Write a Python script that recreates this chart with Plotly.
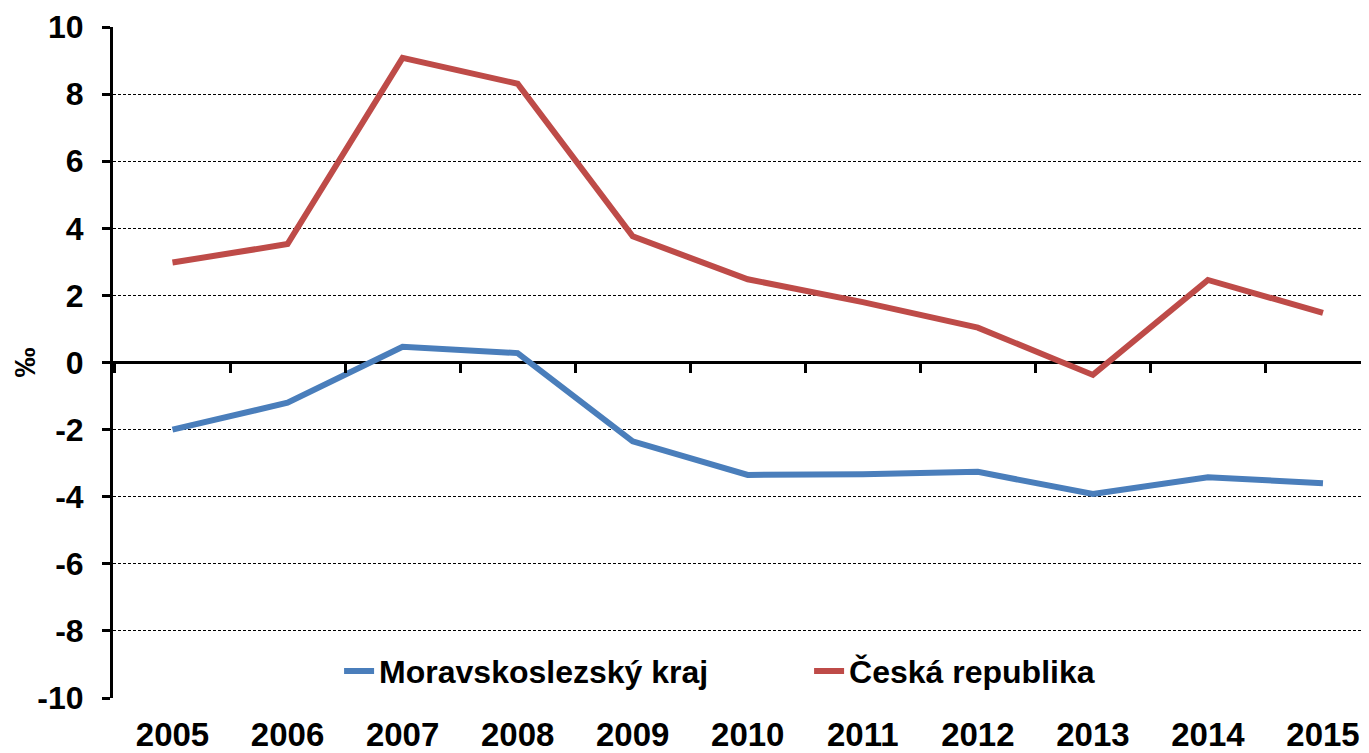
import plotly.graph_objects as go

years = ["2005", "2006", "2007", "2008", "2009", "2010", "2011", "2012", "2013", "2014", "2015"]
moravskoslezsky = [-2.0, -1.2, 0.47, 0.28, -2.35, -3.35, -3.33, -3.26, -3.92, -3.42, -3.6]
ceska_republika = [2.98, 3.53, 9.08, 8.31, 3.76, 2.48, 1.8, 1.04, -0.37, 2.46, 1.48]
y_ticks = [-10, -8, -6, -4, -2, 0, 2, 4, 6, 8, 10]
y_ticktext = [str(v) for v in y_ticks]
boundaries = [i - 0.5 for i in range(len(years) + 1)]

FONT = "Liberation Sans, Arial, sans-serif"
xpos = list(range(len(years)))

fig = go.Figure()
fig.add_trace(go.Scatter(x=xpos, y=moravskoslezsky, mode="lines", name="Moravskoslezský kraj",
                         line=dict(color="#4A7EBB", width=6)))
fig.add_trace(go.Scatter(x=xpos, y=ceska_republika, mode="lines", name="Česká republika",
                         line=dict(color="#BE4B48", width=6)))
# invisible helper trace for the tick-mark axis at y = 0
fig.add_trace(go.Scatter(x=boundaries, y=[0] * len(boundaries), xaxis="x2", mode="lines",
                         line=dict(width=0), showlegend=False, hoverinfo="skip", opacity=0))

xr = [-0.517, 10.40]
fig.update_layout(
    width=1361, height=745,
    margin=dict(l=105, r=0, t=19, b=55),
    paper_bgcolor="white", plot_bgcolor="white",
    font=dict(family=FONT, color="black", weight="bold"),
    xaxis=dict(range=xr, tickvals=xpos, ticktext=years, showgrid=False, zeroline=False,
               showline=False, ticks="", tickfont=dict(size=33, family=FONT, weight="bold"),
               ticklabelstandoff=14, automargin=False),
    xaxis2=dict(range=xr, overlaying="x", anchor="free", position=0.5, side="bottom",
                tickvals=boundaries, ticks="outside", ticklen=9, tickwidth=3, tickcolor="black",
                showticklabels=False, showgrid=False, zeroline=False, showline=False,
                automargin=False),
    yaxis=dict(range=[-10, 10], tickvals=y_ticks, ticktext=y_ticktext, ticks="outside",
               ticklen=8, tickwidth=3,
               tickcolor="black", showline=True, linewidth=3, linecolor="black",
               showgrid=True, gridcolor="black", gridwidth=1.2, griddash="3px,2px",
               zeroline=True, zerolinecolor="black", zerolinewidth=3,
               tickfont=dict(size=32, family=FONT, weight="bold"), ticklabelstandoff=12,
               automargin=False,
               title=dict(text="‰", font=dict(size=30, family=FONT, weight="bold"), standoff=22)),
    legend=dict(orientation="h", x=0.18, y=0.04, xanchor="left", yanchor="middle",
                font=dict(size=32, family=FONT, weight="bold"), entrywidth=425,
                entrywidthmode="pixels", bgcolor="rgba(0,0,0,0)"),
    showlegend=True,
)

fig.write_html("out.html")
